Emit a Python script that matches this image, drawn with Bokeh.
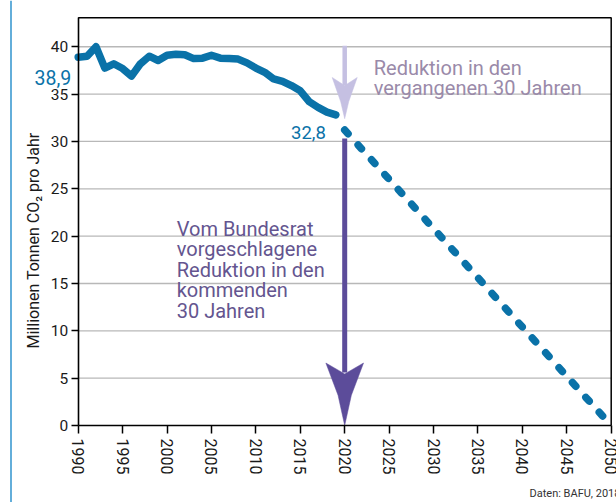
from math import pi
from bokeh.plotting import figure
from bokeh.models import Label, FixedTicker, Range1d, Span
from bokeh.embed import file_html
from bokeh.resources import INLINE

# ---- data ----
years = list(range(1990, 2020))
co2 = [38.9, 39.0, 40.0, 37.75, 38.2, 37.7, 36.9, 38.2, 39.0, 38.55,
       39.1, 39.2, 39.15, 38.75, 38.8, 39.1, 38.8, 38.75, 38.7, 38.3,
       37.75, 37.3, 36.6, 36.35, 35.9, 35.35, 34.2, 33.6, 33.1, 32.8]
target_years = [2020, 2050]
target_vals = [31.2, 0.0]
arrow_year = 2020
past_arrow = [40.1, 32.4]      # top, tip of the light arrow
future_arrow = [30.3, 0.0]     # top, tip of the dark arrow
y_ticks = [0, 5, 10, 15, 20, 25, 30, 35, 40]
grid_ticks = [5, 10, 15, 20, 25, 30, 35, 40]
x_ticks = list(range(1990, 2051, 5))
x_lo, x_hi = 1990, 2050
y_lo, y_hi = 0, 43.06
start_label = "38,9"
end_label = "32,8"
past_text = ["Reduktion in den", "vergangenen 30 Jahren"]
future_text = ["Vom Bundesrat", "vorgeschlagene", "Reduktion in den", "kommenden", "30 Jahren"]
y_title = "Millionen Tonnen CO\u2082 pro Jahr"
source = "Daten: BAFU, 2018"

# ---- layout (pixels) ----
W, H = 616, 502
BOX_L, BOX_R, BOX_T, BOX_B = 77.7, 610.7, 17.3, 425.0
px_x = (BOX_R - BOX_L) / (x_hi - x_lo)
px_y = (BOX_B - BOX_T) / (y_hi - y_lo)
xr = Range1d(x_lo - BOX_L / px_x, x_hi + (W - BOX_R) / px_x)
yr = Range1d(y_lo - (H - BOX_B) / px_y, y_hi + BOX_T / px_y)

BLUE = "#0a72a8"
DARK = "#5c4c9a"
LIGHT = "#c5c0e2"
DARK_TXT = "#64558f"
LIGHT_TXT = "#9a8aa9"
FONT = "Roboto"

p = figure(width=W, height=H, output_backend="svg", toolbar_location=None,
           x_range=xr, y_range=yr,
           min_border_left=0, min_border_right=0, min_border_top=0, min_border_bottom=0)
p.background_fill_color = "white"
p.border_fill_color = "white"
p.outline_line_color = None
p.xgrid.visible = False
p.ygrid.visible = False

for ax in (p.xaxis[0], p.yaxis[0]):
    ax.axis_line_color = "black"
    ax.axis_line_width = 1.6
    ax.major_tick_line_color = "black"
    ax.major_tick_line_width = 1.5
    ax.major_tick_in = 0
    ax.minor_tick_line_color = None
    ax.major_label_text_font = FONT
    ax.major_label_text_color = "#1a1a1a"

p.yaxis.fixed_location = x_lo
p.yaxis.bounds = (y_lo, y_hi)
p.yaxis.ticker = FixedTicker(ticks=y_ticks)
p.yaxis.major_tick_out = 7
p.yaxis.major_label_standoff = 3
p.yaxis.major_label_text_font_size = "15.5px"

p.xaxis.fixed_location = y_lo
p.xaxis.bounds = (x_lo, x_hi)
p.xaxis.ticker = FixedTicker(ticks=x_ticks)
p.xaxis.major_tick_out = 8
p.xaxis.major_label_standoff = 5
p.xaxis.major_label_orientation = "vertical"
p.xaxis.major_label_text_font_size = "16px"

# grid lines and top/right frame
p.segment(x0=[x_lo] * len(grid_ticks), x1=[x_hi] * len(grid_ticks), y0=grid_ticks, y1=grid_ticks,
          line_color="#b8b8b8", line_width=1.3)
p.line([x_lo, x_hi, x_hi], [y_hi, y_hi, y_lo], line_color="black", line_width=1.5)

# left blue page rule
p.add_layout(Span(location=x_lo - (BOX_L - 10.5) / px_x, dimension="height",
                  line_color="#3d9ad1", line_width=1.6))

# projection (dotted)
p.line(target_years, target_vals, line_color=BLUE, line_width=7.5,
       line_dash="5 15", line_cap="round")
# history
p.line(years, co2, line_color=BLUE, line_width=7.5, line_cap="round", line_join="round")

# light arrow (past reduction)
hw_l = 1.41
p.segment(x0=[arrow_year], y0=[past_arrow[0]], x1=[arrow_year], y1=[35.9],
          line_color=LIGHT, line_width=4.5)
p.patch([arrow_year - hw_l, arrow_year - 0.45, arrow_year, arrow_year + 0.45, arrow_year + hw_l, arrow_year],
        [36.76, 34.2, past_arrow[1], 34.2, 36.76, 35.9],
        fill_color=LIGHT, line_color=LIGHT, line_width=0.5)

# dark arrow (future reduction)
hw_d = 2.12
p.segment(x0=[arrow_year], y0=[future_arrow[0]], x1=[arrow_year], y1=[5.6],
          line_color=DARK, line_width=5)
p.patch([arrow_year - hw_d, arrow_year - 0.75, arrow_year, arrow_year + 0.75, arrow_year + hw_d, arrow_year],
        [6.6, 3.2, future_arrow[1], 3.2, 6.6, 5.45],
        fill_color=DARK, line_color=DARK, line_width=0.5)

# value labels
p.add_layout(Label(x=years[0], y=co2[0], x_offset=-7, y_offset=-20, text=start_label,
                   text_align="right", text_baseline="alphabetic", text_font=FONT,
                   text_font_size="19.5px", text_color=BLUE))
p.add_layout(Label(x=years[-1], y=co2[-1], x_offset=-10, y_offset=-17.5, text=end_label,
                   text_align="right", text_baseline="alphabetic", text_font=FONT,
                   text_font_size="18.5px", text_color=BLUE))

# annotation texts
for i, line in enumerate(past_text):
    p.add_layout(Label(x=arrow_year, y=past_arrow[0], x_offset=29, y_offset=-22 - 20.5 * i,
                       text=line, text_align="left", text_baseline="alphabetic",
                       text_font=FONT, text_font_size="20px", text_color=LIGHT_TXT))
for i, line in enumerate(future_text):
    p.add_layout(Label(x=arrow_year, y=future_arrow[0], x_offset=-168, y_offset=-90 - 20.5 * i,
                       text=line, text_align="left", text_baseline="alphabetic",
                       text_font=FONT, text_font_size="20px", text_color=DARK_TXT))

# y-axis title (screen units: from canvas left / bottom)
p.add_layout(Label(x=33, y=H - 240, x_units="screen", y_units="screen", angle=pi / 2,
                   text=y_title, text_align="center", text_baseline="middle",
                   text_font=FONT, text_font_size="16px", text_color="#1a1a1a"))
# source
p.add_layout(Label(x=529, y=H - 492.7, x_units="screen", y_units="screen", text=source,
                   text_align="left", text_baseline="alphabetic",
                   text_font=FONT, text_font_size="11px", text_color="#333333"))

open("out.html", "w").write(file_html(p, INLINE))
